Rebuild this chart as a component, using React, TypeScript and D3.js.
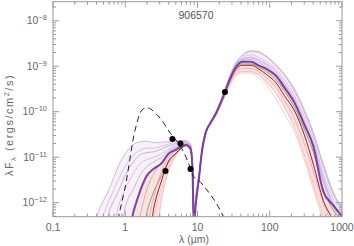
import React from 'react';
import * as d3 from 'd3';

const W = 354;
const H = 246;
const box = { left: 53, right: 342, top: 1.7, bottom: 216.7 };

// wavelength grid (micron) shared by the model SEDs
const wavelength = [0.35, 0.45, 0.6, 0.8, 1.0, 1.3, 1.6, 2.0, 2.5, 3.2, 4.0, 5.0, 6.0, 7.0, 8.0, 8.5, 8.9, 9.5, 10.5, 11.5, 13, 15, 18, 22, 27, 33, 42, 55, 70, 90, 120, 160, 220, 300, 400, 550, 750, 1000];

// log10(lambda F_lambda) of the model SEDs
const bestFit = [-13, -13, -13, -13, -13, -12.2, -11.75, -11.4, -11.25, -11.13, -10.92, -10.84, -10.76, -10.73, -10.82, -11.2, -12.5, -12.0, -11.45, -10.88, -10.46, -10.26, -10.04, -9.72, -9.35, -9.05, -8.9, -8.9, -8.98, -9.06, -9.2, -9.47, -9.8, -10.28, -10.75, -11.75, -12.05, -12.3];
const lav1 = [-12.6, -12.1, -11.7, -11.2, -10.92, -10.72, -10.66, -10.65, -10.68, -10.67, -10.66, -10.64, -10.63, -10.64, -10.7, -11.05, -12.2, -11.8, -11.35, -10.82, -10.42, -10.22, -10.0, -9.68, -9.3, -8.98, -8.78, -8.68, -8.7, -8.8, -8.98, -9.2, -9.55, -10.0, -10.5, -11.2, -11.8, -12.1];
const lav2 = [-13, -12.45, -11.95, -11.5, -11.2, -10.95, -10.85, -10.8, -10.8, -10.76, -10.71, -10.67, -10.65, -10.66, -10.72, -11.1, -12.3, -11.9, -11.4, -10.85, -10.44, -10.24, -10.02, -9.7, -9.32, -9.0, -8.82, -8.75, -8.8, -8.9, -9.05, -9.3, -9.65, -10.1, -10.6, -11.35, -11.9, -12.2];
const lav3 = [-13, -13, -12.2, -11.75, -11.4, -11.1, -10.95, -10.9, -10.88, -10.82, -10.75, -10.7, -10.68, -10.68, -10.75, -11.12, -12.35, -11.95, -11.42, -10.86, -10.45, -10.25, -10.03, -9.71, -9.33, -9.02, -8.85, -8.8, -8.85, -8.95, -9.1, -9.38, -9.72, -10.2, -10.7, -11.45, -12.0, -12.28];
const lav4 = [-13, -13, -13, -12.1, -11.7, -11.35, -11.15, -11.05, -11.0, -10.92, -10.82, -10.74, -10.7, -10.7, -10.77, -11.15, -12.4, -12.0, -11.45, -10.87, -10.46, -10.26, -10.04, -9.72, -9.34, -9.03, -8.86, -8.82, -8.88, -8.98, -9.15, -9.42, -9.78, -10.25, -10.75, -11.5, -12.05, -12.3];
const lav5 = [-13, -13, -13, -13, -12.1, -11.7, -11.4, -11.2, -11.1, -11.0, -10.86, -10.78, -10.72, -10.71, -10.78, -11.17, -12.45, -12.0, -11.46, -10.88, -10.46, -10.26, -10.04, -9.72, -9.35, -9.04, -8.88, -8.85, -8.92, -9.02, -9.18, -9.45, -9.8, -10.28, -10.78, -11.55, -12.08, -12.32];
const grayFit = [-13, -13, -13, -13, -13, -13, -12.3, -11.7, -11.35, -11.1, -10.9, -10.8, -10.74, -10.72, -10.78, -11.15, -12.3, -11.9, -11.4, -10.85, -10.44, -10.24, -10.0, -9.68, -9.28, -8.96, -8.75, -8.66, -8.68, -8.78, -8.95, -9.18, -9.5, -9.95, -10.45, -11.15, -11.75, -12.15];
const greenFit = [-13, -13, -13, -13, -13, -13, -13, -12.2, -11.75, -11.4, -11.1, -10.92, -10.8, -10.75, -10.82, -11.2, -12.45, -12.0, -11.45, -10.88, -10.46, -10.26, -10.04, -9.72, -9.35, -9.06, -8.95, -8.95, -9.02, -9.12, -9.28, -9.55, -9.9, -10.38, -10.88, -11.7, -12.15, -12.4];
const redFit = [-13, -13, -13, -13, -13, -13, -13, -13, -12.1, -11.5, -11.08, -10.92, -10.8, -10.74, -10.82, -11.2, -12.5, -12.0, -11.45, -10.88, -10.46, -10.26, -10.05, -9.74, -9.38, -9.1, -8.98, -8.98, -9.06, -9.18, -9.35, -9.65, -9.98, -10.5, -11.15, -11.95, -12.4, -13];
const pink1 = [-13, -13, -13, -13, -13, -13, -13, -12.5, -11.85, -11.3, -11.0, -10.85, -10.75, -10.72, -10.8, -11.15, -12.4, -11.95, -11.42, -10.86, -10.45, -10.26, -10.06, -9.76, -9.42, -9.15, -9.05, -9.05, -9.12, -9.25, -9.45, -9.75, -10.15, -10.7, -11.3, -12.0, -12.5, -13];
const pink2 = [-13, -13, -13, -13, -13, -13, -13, -13, -13, -11.9, -11.3, -10.98, -10.8, -10.74, -10.8, -11.15, -12.4, -11.95, -11.42, -10.86, -10.45, -10.26, -10.07, -9.78, -9.45, -9.2, -9.12, -9.12, -9.2, -9.35, -9.58, -9.9, -10.35, -10.95, -11.6, -12.3, -13, -13];
const pink3 = [-13, -13, -13, -13, -13, -13, -13, -13, -12.3, -11.65, -11.2, -10.93, -10.78, -10.73, -10.8, -11.15, -12.4, -11.95, -11.42, -10.86, -10.45, -10.27, -10.08, -9.8, -9.48, -9.24, -9.15, -9.15, -9.25, -9.42, -9.7, -10.05, -10.45, -11.05, -11.7, -12.4, -13, -13];

// stellar photosphere (dashed)
const photoWave = [0.75, 0.81, 1.0, 1.37, 1.71, 2.0, 2.61, 3.41, 4.2, 5.1, 6.4, 7.5, 8.8, 10.2, 13.5, 18.8, 23, 26];
const photoLog = [-12.6, -12.31, -11.65, -10.4, -9.96, -9.91, -10.03, -10.25, -10.47, -10.64, -10.88, -11.13, -11.42, -11.5, -11.72, -12.05, -12.31, -12.45];

// observed photometry
const obsWave = [3.6, 4.5, 5.8, 8.0, 24];
const obsFlux = [5.0e-12, 2.5e-11, 2.0e-11, 5.5e-12, 2.7e-10];

const xTicks = [0.1, 1, 10, 100, 1000];
const xTickLabels = ['0.1', '1', '10', '100', '1000'];
const yTickExp = [-12, -11, -10, -9, -8];

const x = d3.scaleLog().domain([0.1, 1000]).range([box.left, box.right]);
const y = d3.scaleLog().domain([4.92e-13, 2.62e-8]).range([box.bottom, box.top]);

const sedLine = d3
  .line<number>()
  .x((_, i) => x(wavelength[i]))
  .y((v) => y(Math.pow(10, v)))
  .curve(d3.curveMonotoneX);

const band = (upper: number[], lower: number[]) =>
  d3
    .area<number>()
    .x((_, i) => x(wavelength[i]))
    .y0((_, i) => y(Math.pow(10, lower[i])))
    .y1((v) => y(Math.pow(10, v)))
    .curve(d3.curveMonotoneX)(upper) || '';

const photoLine = d3
  .line<number>()
  .x((_, i) => x(photoWave[i]))
  .y((v) => y(Math.pow(10, v)))
  .curve(d3.curveMonotoneX);

const thinLines: [number[], string, number][] = [
  [lav1, '#c9a7d9', 0.9],
  [lav2, '#d3b6df', 0.9],
  [lav3, '#bf9bcf', 0.85],
  [lav4, '#cdaedb', 0.85],
  [lav5, '#c2a0d3', 0.85],
  [pink3, '#f4c2c0', 0.9],
  [pink2, '#f3b0ae', 0.9],
  [pink1, '#eea3a6', 0.9],
  [grayFit, '#b8a8b4', 0.9],
  [greenFit, '#7f9a60', 1],
];

const minorTicks = (lo: number, hi: number, min: number, max: number) => {
  const out: number[] = [];
  for (let e = lo; e <= hi; e++) {
    for (let k = 2; k <= 9; k++) {
      const v = k * Math.pow(10, e);
      if (v > min && v < max) out.push(v);
    }
  }
  return out;
};

export default function App() {
  const font = '"Liberation Sans", Arial, sans-serif';
  const axisColor = '#999';
  const textColor = '#666';
  const xMinor = minorTicks(-1, 2, 0.1, 1000);
  const yMinor = minorTicks(-13, -8, 4.92e-13, 2.62e-8);
  const yMajor = yTickExp.map((e) => Math.pow(10, e));

  return (
    <svg width={W} height={H} style={{ position: 'absolute', left: 0, top: 0 }} fontFamily={font}>
      <rect width={W} height={H} fill="#fff" />
      <defs>
        <clipPath id="plot">
          <rect x={box.left} y={box.top} width={box.right - box.left} height={box.bottom - box.top} />
        </clipPath>
      </defs>

      <g clipPath="url(#plot)">
        <path d={band(lav1, bestFit)} fill="#dcc6e6" opacity={0.25} />
        <path d={band(bestFit, pink2)} fill="#f8c6c2" opacity={0.5} />
        {thinLines.map(([vals, c, o], i) => (
          <path key={i} d={sedLine(vals) || ''} fill="none" stroke={c} strokeOpacity={o} strokeWidth={0.9} />
        ))}
        <path d={sedLine(redFit) || ''} fill="none" stroke="#9e1a32" strokeWidth={1} />
        <path d={sedLine(bestFit) || ''} fill="none" stroke="#7b40a8" strokeWidth={2} />
        <path d={photoLine(photoLog) || ''} fill="none" stroke="#222" strokeWidth={1} strokeDasharray="6,4" />
        {obsWave.map((w, i) => (
          <circle key={i} cx={x(w)} cy={y(obsFlux[i])} r={3} fill="#000" />
        ))}
      </g>

      <rect
        x={box.left}
        y={box.top}
        width={box.right - box.left}
        height={box.bottom - box.top}
        fill="none"
        stroke={axisColor}
        strokeWidth={1}
      />

      {/* x ticks, bottom and top */}
      {xTicks.map((t) => (
        <g key={'xm' + t} stroke={axisColor}>
          <line x1={x(t)} x2={x(t)} y1={box.bottom} y2={box.bottom - 6} />
          <line x1={x(t)} x2={x(t)} y1={box.top} y2={box.top + 6} />
        </g>
      ))}
      {xMinor.map((t) => (
        <g key={'xn' + t} stroke={axisColor}>
          <line x1={x(t)} x2={x(t)} y1={box.bottom} y2={box.bottom - 3} />
          <line x1={x(t)} x2={x(t)} y1={box.top} y2={box.top + 3} />
        </g>
      ))}
      {/* y ticks, left and right */}
      {yMajor.map((t) => (
        <g key={'ym' + t} stroke={axisColor}>
          <line x1={box.left} x2={box.left + 6} y1={y(t)} y2={y(t)} />
          <line x1={box.right} x2={box.right - 6} y1={y(t)} y2={y(t)} />
        </g>
      ))}
      {yMinor.map((t) => (
        <g key={'yn' + t} stroke={axisColor}>
          <line x1={box.left} x2={box.left + 3} y1={y(t)} y2={y(t)} />
          <line x1={box.right} x2={box.right - 3} y1={y(t)} y2={y(t)} />
        </g>
      ))}

      {xTicks.map((t, i) => (
        <text key={'xl' + t} x={x(t)} y={231} fontSize={10.5} fill={textColor} textAnchor="middle">
          {xTickLabels[i]}
        </text>
      ))}
      {yTickExp.map((e) => (
        <text key={'yl' + e} x={47} y={y(Math.pow(10, e)) + 3.5} fontSize={10.5} fill={textColor} textAnchor="end">
          10
          <tspan dy={-4} fontSize={7.5}>
            {'\u2212' + Math.abs(e)}
          </tspan>
        </text>
      ))}

      <text x={196} y={19} fontSize={10.5} fill="#555" textAnchor="middle">
        906570
      </text>
      <text x={194} y={243} fontSize={10.5} fill={textColor} textAnchor="middle">
        λ (μm)
      </text>
      <text
        transform="translate(13,125) rotate(-90)"
        fontSize={11}
        fill={textColor}
        textAnchor="middle"
        letterSpacing={1.5}
      >
        λF
        <tspan dy={3} fontSize={7.5}>
          λ
        </tspan>
        <tspan dy={-3}> (ergs/cm</tspan>
        <tspan dy={-4} fontSize={7.5}>
          2
        </tspan>
        <tspan dy={4}>/s)</tspan>
      </text>
    </svg>
  );
}
